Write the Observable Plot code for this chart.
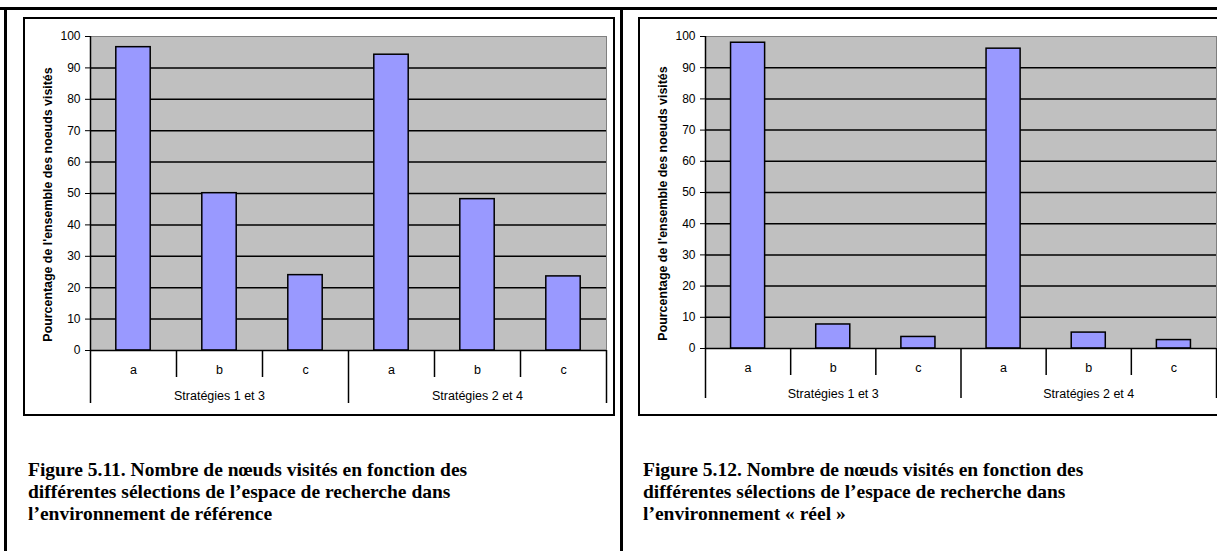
<!DOCTYPE html>
<html><head><meta charset="utf-8">
<script src="https://cdn.jsdelivr.net/npm/d3@7"></script>
<script src="https://cdn.jsdelivr.net/npm/@observablehq/plot@0.6"></script>
<style>
html,body{margin:0;padding:0;background:#fff;}
#page{position:relative;width:1217px;height:551px;overflow:hidden;}
.line{position:absolute;background:#000;}
.box{position:absolute;border:2px solid #000;box-sizing:border-box;}
.chart{position:absolute;}
.chart svg{overflow:visible;max-width:none !important;}
.caption{position:absolute;font-family:"Liberation Serif","Times New Roman",serif;font-weight:bold;font-size:19.5px;line-height:22px;color:#000;white-space:nowrap;}
</style></head>
<body><div id="page">
<div class="line" style="left:0;top:7px;width:1217px;height:3px"></div>
<div class="line" style="left:4px;top:7px;width:3px;height:544px"></div>
<div class="line" style="left:620px;top:7px;width:3px;height:544px"></div>
<div class="box" style="left:23px;top:17px;width:592px;height:399px"></div>
<div class="box" style="left:638px;top:17px;width:600px;height:399px"></div>
<div class="chart" id="c1" style="left:23px;top:17px;width:591px;height:398px"></div>
<div class="chart" id="c2" style="left:638px;top:17px;width:590px;height:398px"></div>
<div class="caption" id="cap1" style="left:28px;top:459px"></div>
<div class="caption" id="cap2" style="left:643px;top:459px"></div>
</div>
<script>
const groups = ["Stratégies 1 et 3", "Stratégies 2 et 4"];
const categories = ["a", "b", "c"];
const valuesFig511 = [96.6, 50.1, 24.0, 94.2, 48.2, 23.6];
const valuesFig512 = [98.0, 7.7, 3.7, 96.1, 5.1, 2.7];
const yTicks = [0, 10, 20, 30, 40, 50, 60, 70, 80, 90, 100];
const yTitle = "Pourcentage de l'ensemble des noeuds visités";
const caption511 = ["Figure 5.11. Nombre de nœuds visités en fonction des",
  "différentes sélections de l’espace de recherche dans",
  "l’environnement de référence"];
const caption512 = ["Figure 5.12. Nombre de nœuds visités en fonction des",
  "différentes sélections de l’espace de recherche dans",
  "l’environnement « réel »"];

function chart(values, cfg) {
  const rows = [];
  groups.forEach((g, gi) => categories.forEach((c, ci) =>
    rows.push({group: g, cat: c, i: gi * categories.length + ci, value: values[gi * categories.length + ci]})));
  const n = rows.length;
  const bounds = d3.range(n + 1);
  const k = categories.length;
  return Plot.plot({
    width: cfg.width, height: 398,
    marginLeft: 67, marginRight: cfg.marginRight, marginTop: 19, marginBottom: cfg.marginBottom,
    x: {domain: [0, n], axis: null},
    y: {domain: [0, 100]},
    style: {fontFamily: "'Liberation Sans', Arial, sans-serif", fontSize: "12px", color: "#000", background: "transparent"},
    marks: [
      Plot.frame({fill: "#c0c0c0", stroke: "#808080"}),
      Plot.ruleY(yTicks.filter(t => t > 0 && t < 100), {stroke: "#000", strokeWidth: 1.5}),
      Plot.rect(rows, {x1: d => d.i + 0.3, x2: d => d.i + 0.7, y1: 0, y2: "value", fill: "#9999ff", stroke: "#000", strokeWidth: 1.5}),
      Plot.ruleX([0], {stroke: "#000", strokeWidth: 1.5}),
      Plot.ruleY([0], {stroke: "#000", strokeWidth: 1.5}),
      Plot.axisY({ticks: yTicks, tickSize: 5, tickPadding: 5, label: null, stroke: "#000", fontSize: 12}),
      Plot.ruleX(bounds.filter(b => b % k !== 0), {x: d => d, y1: 0, y2: 0, insetBottom: -27, stroke: "#000", strokeWidth: 1.5}),
      Plot.ruleX(bounds.filter(b => b % k === 0), {x: d => d, y1: 0, y2: 0, insetBottom: -cfg.groupLen, stroke: "#000", strokeWidth: 1.5}),
      Plot.text(rows, {x: d => d.i + 0.5, y: 0, text: "cat", dy: 19, fontSize: 12.5}),
      Plot.text(groups, {x: (d, gi) => gi * k + k / 2, y: 0, text: d => d, dy: 45, fontSize: 12.5}),
      Plot.text([yTitle], {frameAnchor: "left", textAnchor: "middle", rotate: -90, dx: -42, dy: 11, text: d => d, fontWeight: "bold", fontSize: 12.4})
    ]
  });
}

document.getElementById("c1").appendChild(chart(valuesFig511, {width: 591, marginRight: 8, marginBottom: 65, groupLen: 53}));
document.getElementById("c2").appendChild(chart(valuesFig512, {width: 590, marginRight: 12, marginBottom: 67, groupLen: 50}));
document.getElementById("cap1").innerHTML = caption511.join("<br>");
document.getElementById("cap2").innerHTML = caption512.join("<br>");
</script>
</body></html>
